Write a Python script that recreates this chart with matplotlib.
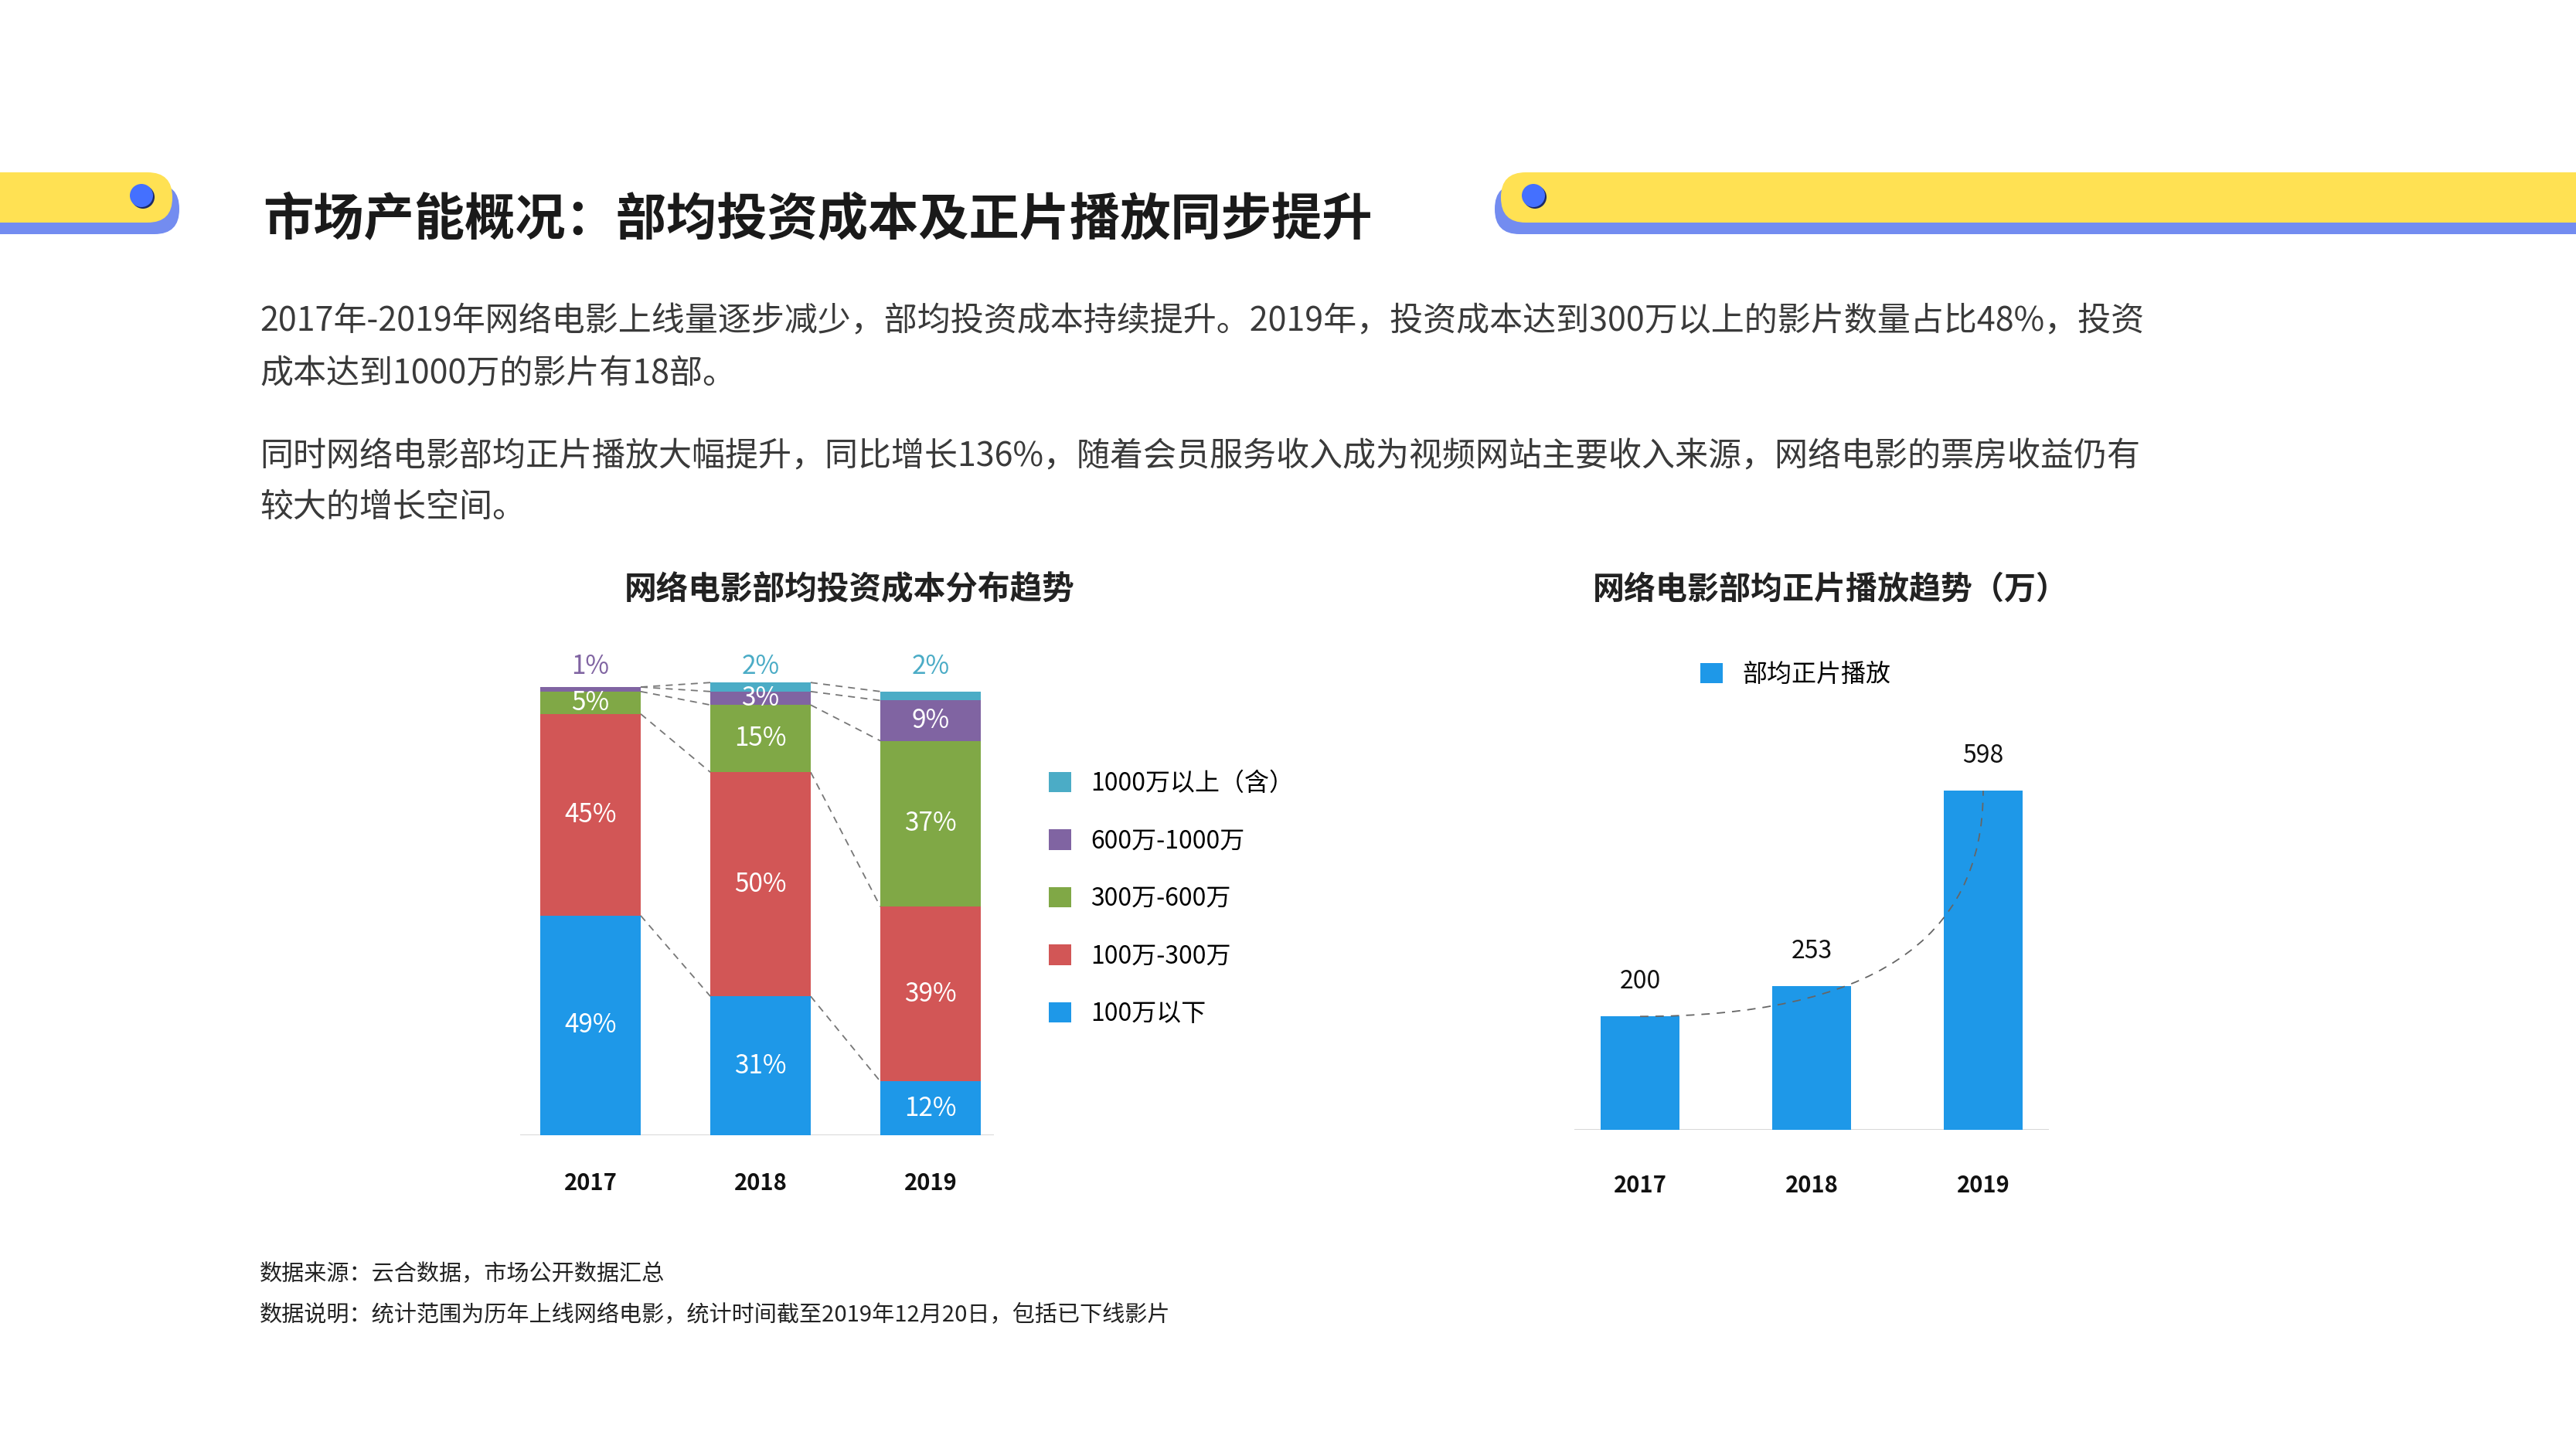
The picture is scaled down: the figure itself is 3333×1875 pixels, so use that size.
import numpy as np
import matplotlib
matplotlib.use("Agg")
import matplotlib.pyplot as plt
from matplotlib.patches import FancyBboxPatch, Circle, PathPatch
from matplotlib.path import Path

plt.rcParams["font.family"] = ["Noto Sans CJK SC", "DejaVu Sans"]

# ============================================================
# Data
# ============================================================

years = ["2017", "2018", "2019"]

# cost buckets, bottom to top
cost_labels = ["100万以下", "100万-300万", "300万-600万", "600万-1000万", "1000万以上（含）"]
cost_under100 = [49, 31, 12]
cost_100_300 = [45, 50, 39]
cost_300_600 = [5, 15, 37]
cost_600_1000 = [1, 3, 9]
cost_over1000 = [0, 2, 2]

play_label = "部均正片播放"
play_values = [200, 253, 598]

title = "市场产能概况：部均投资成本及正片播放同步提升"
para_lines = [
    "2017年-2019年网络电影上线量逐步减少，部均投资成本持续提升。2019年，投资成本达到300万以上的影片数量占比48%，投资",
    "成本达到1000万的影片有18部。",
    "同时网络电影部均正片播放大幅提升，同比增长136%，随着会员服务收入成为视频网站主要收入来源，网络电影的票房收益仍有",
    "较大的增长空间。",
]
left_title = "网络电影部均投资成本分布趋势"
right_title = "网络电影部均正片播放趋势（万）"
notes = [
    "数据来源：云合数据，市场公开数据汇总",
    "数据说明：统计范围为历年上线网络电影，统计时间截至2019年12月20日，包括已下线影片",
]

# ============================================================
# Styles
# ============================================================

W, H = 3333, 1875
BLUE = "#1E98E8"
RED = "#D25656"
GREEN = "#80A846"
PURPLE = "#8064A2"
CYAN = "#4BACC6"
YELLOW = "#FFE153"
SHADOW = "#5B78EE"
DOT = "#4470FF"
TXT = "#3A3A3A"

fig = plt.figure(figsize=(W / 100, H / 100), dpi=100)
fig.patch.set_facecolor("white")

# background layer in pixel coordinates
bg = fig.add_axes([0, 0, 1, 1])
bg.set_xlim(0, W)
bg.set_ylim(H, 0)
bg.axis("off")

# header decorations
bg.add_patch(FancyBboxPatch((-100, 238), 332, 65, boxstyle="round,pad=0,rounding_size=32",
                            fc=SHADOW, ec="none", alpha=0.85))
bg.add_patch(FancyBboxPatch((-100, 223), 323, 65, boxstyle="round,pad=0,rounding_size=32",
                            fc=YELLOW, ec="none"))
bg.add_patch(Circle((185, 255), 15, fc="#1C2A66", ec="none"))
bg.add_patch(Circle((183, 253), 15, fc=DOT, ec="none"))

bg.add_patch(FancyBboxPatch((1934, 238), 1500, 65, boxstyle="round,pad=0,rounding_size=32",
                            fc=SHADOW, ec="none", alpha=0.85))
bg.add_patch(FancyBboxPatch((1942, 223), 1500, 65, boxstyle="round,pad=0,rounding_size=32",
                            fc=YELLOW, ec="none"))
bg.add_patch(Circle((1986, 255), 15, fc="#1C2A66", ec="none"))
bg.add_patch(Circle((1984, 253), 15, fc=DOT, ec="none"))

bg.text(340, 284, title, fontsize=47, fontweight="bold", color="#1A1A1A", va="center", ha="left")

para_y = [416, 484, 591, 657]
for line, y in zip(para_lines, para_y):
    bg.text(336, y, line, fontsize=31, color=TXT, va="center", ha="left")

bg.text(1099, 763, left_title, fontsize=30, fontweight="bold", color="#222222", ha="center", va="center")
bg.text(2368, 763, right_title, fontsize=29.5, fontweight="bold", color="#222222", ha="center", va="center")

for line, y in zip(notes, [1649, 1702]):
    bg.text(336, y, line, fontsize=21, color="#222222", va="center", ha="left")


def fig_rect(x0, y0, x1, y1):
    return [x0 / W, 1 - y1 / H, (x1 - x0) / W, (y1 - y0) / H]


# ============================================================
# Left: stacked percentage bars
# ============================================================

ax1 = fig.add_axes(fig_rect(673, 820, 1286, 1469))
x = np.arange(len(years))
series = [cost_under100, cost_100_300, cost_300_600, cost_600_1000, cost_over1000]
colors = [BLUE, RED, GREEN, PURPLE, CYAN]

bw = 0.59
bottom = np.zeros(len(years))
tops = []
for vals, col, lab in zip(series, colors, cost_labels):
    vals = np.array(vals, dtype=float)
    ax1.bar(x, vals, bw, bottom=bottom, color=col, label=lab, zorder=2)
    for i, v in enumerate(vals):
        if v >= 3:
            ax1.text(x[i], bottom[i] + v / 2, f"{int(v)}%", color="white", fontsize=24,
                     ha="center", va="center", zorder=3)
    bottom = bottom + vals
    tops.append(bottom.copy())

# small top segments labelled above the bar
top_col = [PURPLE if cost_over1000[i] == 0 else CYAN for i in range(len(years))]
top_val = [cost_600_1000[i] if cost_over1000[i] == 0 else cost_over1000[i] for i in range(len(years))]
for i in range(len(years)):
    ax1.text(x[i], 101.5, f"{top_val[i]}%", color=top_col[i], fontsize=24,
             ha="center", va="bottom", zorder=3)

# dashed connectors between segment tops
for t in tops:
    for i in range(len(years) - 1):
        ax1.plot([x[i] + bw / 2, x[i + 1] - bw / 2], [t[i], t[i + 1]], ls=(0, (5, 4)),
                 color="#777777", lw=1.3, zorder=1)

ax1.axhline(0, color="#D9D9D9", lw=1.5, zorder=1)
ax1.set_xlim(-0.414, 2.373)
ax1.set_ylim(0, 111.9)
ax1.set_xticks(x)
ax1.set_xticklabels(years, fontsize=21, fontweight="bold", color="#111111")
ax1.tick_params(axis="x", length=0, pad=34)
ax1.set_yticks([])
for s in ax1.spines.values():
    s.set_visible(False)
ax1.patch.set_alpha(0)

h, l = ax1.get_legend_handles_labels()
ax1.legend(h[::-1], l[::-1], loc="upper left", bbox_to_anchor=(1357 / W, 1 - 998 / H),
           bbox_transform=fig.transFigure, frameon=False, fontsize=23,
           handlelength=0.9, handleheight=0.9, handletextpad=0.8, labelspacing=1.33,
           borderpad=0, borderaxespad=0)

# ============================================================
# Right: plays per film
# ============================================================

ax2 = fig.add_axes(fig_rect(2037, 820, 2651, 1462))
bw2 = 0.46
ax2.bar(x, play_values, bw2, color=BLUE, label=play_label, zorder=2)
for i, v in enumerate(play_values):
    ax2.text(x[i], v + 40, str(v), fontsize=23, color="#111111", ha="center", va="bottom")

# dashed trend curve from first to last bar top
verts = [(x[0], play_values[0]), (x[-1], play_values[0]), (x[-1], play_values[-1])]
curve = Path(verts, [Path.MOVETO, Path.CURVE3, Path.CURVE3])
ax2.add_patch(PathPatch(curve, fc="none", ec="#666666", lw=1.3, ls=(0, (6, 5)), zorder=3))

ax2.axhline(0, color="#D9D9D9", lw=1.5, zorder=1)
ax2.set_xlim(-0.383, 2.383)
ax2.set_ylim(0, 875)
ax2.set_xticks(x)
ax2.set_xticklabels(years, fontsize=21, fontweight="bold", color="#111111")
ax2.tick_params(axis="x", length=0, pad=41)
ax2.set_yticks([])
for s in ax2.spines.values():
    s.set_visible(False)
ax2.patch.set_alpha(0)

ax2.legend(loc="center left", bbox_to_anchor=(2200 / W, 1 - 873 / H), bbox_transform=fig.transFigure,
           frameon=False, fontsize=23, handlelength=0.9, handleheight=0.9, handletextpad=0.8,
           borderpad=0, borderaxespad=0)

fig.savefig("out.png", dpi=100, facecolor="white")
